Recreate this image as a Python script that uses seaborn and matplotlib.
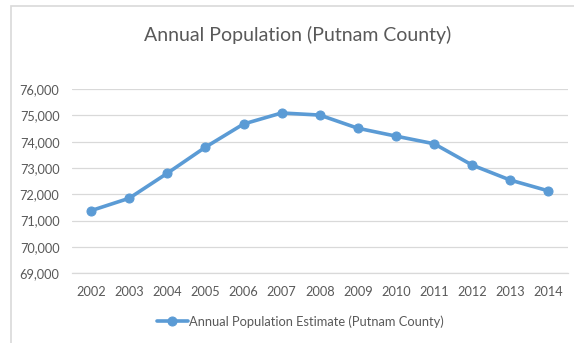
import matplotlib
matplotlib.use("Agg")
import matplotlib.pyplot as plt
import matplotlib.patches as mpatches
import seaborn as sns
import pandas as pd

years = ["2002", "2003", "2004", "2005", "2006", "2007", "2008",
         "2009", "2010", "2011", "2012", "2013", "2014"]
population = [71380, 71850, 72800, 73790, 74670, 75090, 75010,
              74510, 74210, 73920, 73110, 72540, 72130]
y_ticks = [69000, 70000, 71000, 72000, 73000, 74000, 75000, 76000]
series_name = "Annual Population Estimate (Putnam County)"
title = "Annual Population (Putnam County)"

sns.set_theme(style="white")
plt.rcParams["font.family"] = ["Lato", "DejaVu Sans"]

text_gray = "#595959"
grid_gray = "#D9D9D9"
blue = "#5B9BD5"

df = pd.DataFrame({"Year": years, "Population": population})

fig = plt.figure(figsize=(5.74, 3.43), dpi=100)
ax = fig.add_axes([0.1254, 0.2032, 0.8633, 0.5373])

sns.lineplot(data=df, x="Year", y="Population", ax=ax, color=blue,
             linewidth=2.6, marker="o", markersize=6.5,
             markeredgecolor=blue, label=series_name, sort=False)

ax.set_xlim(-0.5, len(years) - 0.5)
ax.set_ylim(y_ticks[0], y_ticks[-1])
ax.set_yticks(y_ticks)
ax.set_yticklabels([f"{v:,}" for v in y_ticks])
ax.yaxis.grid(True, color=grid_gray, linewidth=0.9)
ax.set_axisbelow(True)
for side in ["top", "right", "left"]:
    ax.spines[side].set_visible(False)
ax.spines["bottom"].set_color(grid_gray)
ax.spines["bottom"].set_linewidth(0.9)
ax.tick_params(axis="both", length=0, labelsize=9.2, colors=text_gray)
ax.tick_params(axis="y", pad=9)
ax.tick_params(axis="x", pad=9)
ax.set_xlabel("")
ax.set_ylabel("")

fig.text(0.519, 0.898, title, ha="center", va="center",
         fontsize=14, color=text_gray)

ax.legend(loc="center", bbox_to_anchor=(0.523, 0.062),
          bbox_transform=fig.transFigure, frameon=False,
          fontsize=9.3, labelcolor=text_gray, handlelength=2.4,
          handletextpad=0.1)

# thin chart frame along the top and left edges
frame = mpatches.Rectangle((10.5 / 574, -0.1), 1.2, 1.1 - 5.5 / 343,
                           transform=fig.transFigure, fill=False,
                           edgecolor=grid_gray, linewidth=1.2)
fig.patches.append(frame)

fig.savefig("out.png", dpi=100)
